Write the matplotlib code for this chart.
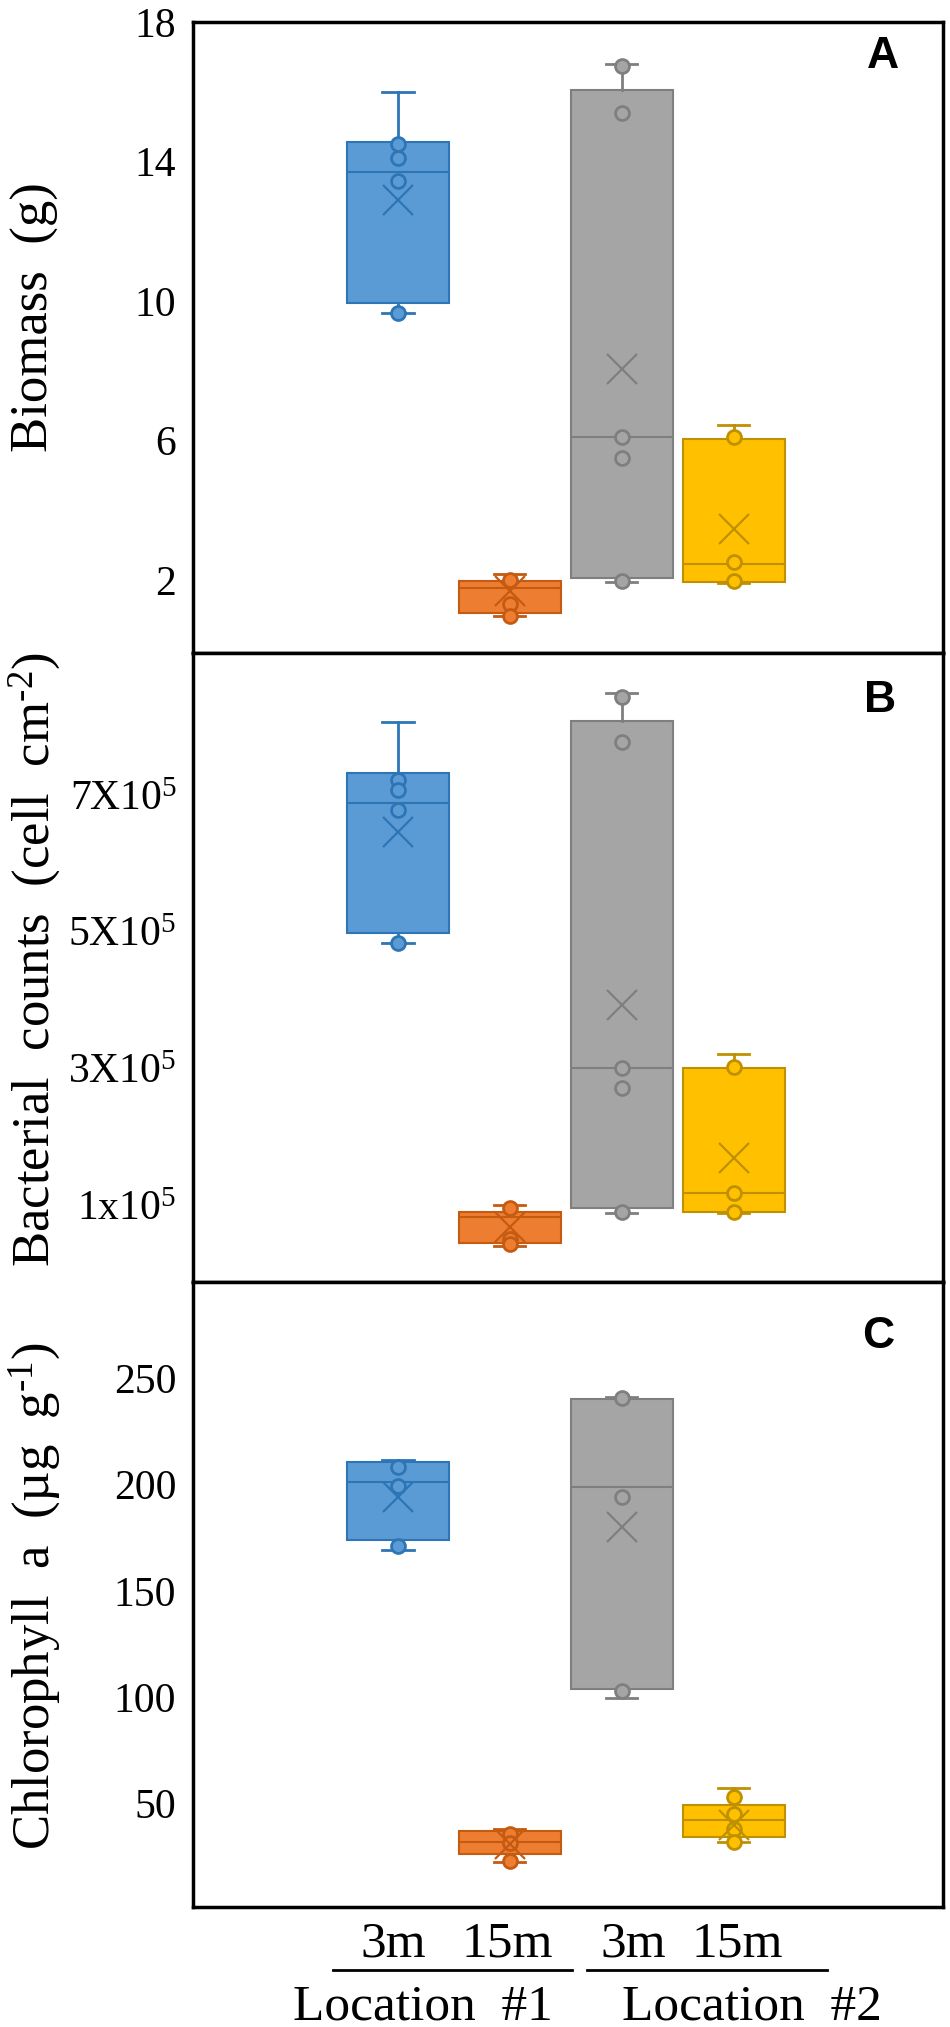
import matplotlib
matplotlib.use("Agg")
import matplotlib.pyplot as plt
from matplotlib.transforms import blended_transform_factory

plt.rcParams['font.family'] = ['Liberation Serif', 'DejaVu Serif']
plt.rcParams['mathtext.fontset'] = 'custom'
plt.rcParams['mathtext.rm'] = 'Liberation Serif'
plt.rcParams['mathtext.it'] = 'Liberation Serif:italic'
plt.rcParams['mathtext.default'] = 'regular'

# groups along x
positions = [1, 2, 3, 4]
depths = ['3m', '15m', '3m', '15m']
locations = ['Location  #1', 'Location  #2']

# colours (Excel palette)
fill_colors = ['#5B9BD5', '#ED7D31', '#A5A5A5', '#FFC000']
edge_colors = ['#2E75B6', '#C55A11', '#7F7F7F', '#BF9000']

# Panel A - biomass (g)
biomass_whislo = [9.65, 0.96, 1.95, 1.90]
biomass_q1 = [9.93, 1.05, 2.05, 1.95]
biomass_med = [13.7, 1.77, 6.1, 2.45]
biomass_q3 = [14.55, 1.97, 16.05, 6.05]
biomass_whishi = [16.0, 2.17, 16.8, 6.45]
biomass_mean = [12.9, 1.68, 8.05, 3.45]
biomass_points = [[14.5, 14.1, 13.45, 9.65], [2.0, 1.3, 0.96],
                  [16.75, 15.4, 6.1, 5.5, 1.97], [6.1, 2.5, 1.97]]
biomass_ticks = [2, 6, 10, 14, 18]
biomass_ticklabels = ['2', '6', '10', '14', '18']

# Panel B - bacterial counts (cell cm-2)
bact_whislo = [4.83e5, 0.40e5, 0.88e5, 0.88e5]
bact_q1 = [4.98e5, 0.44e5, 0.95e5, 0.90e5]
bact_med = [6.88e5, 0.82e5, 3.0e5, 1.17e5]
bact_q3 = [7.32e5, 0.89e5, 8.08e5, 3.0e5]
bact_whishi = [8.07e5, 1.0e5, 8.49e5, 3.21e5]
bact_mean = [6.46e5, 0.67e5, 3.93e5, 1.69e5]
bact_points = [[7.22e5, 7.07e5, 6.78e5, 4.83e5], [0.95e5, 0.5e5, 0.42e5],
               [8.43e5, 7.78e5, 3.0e5, 2.71e5, 0.89e5], [3.02e5, 1.17e5, 0.9e5]]
bact_ticks = [1e5, 3e5, 5e5, 7e5]
bact_ticklabels = ['1x10$^{5}$', '3X10$^{5}$', '5X10$^{5}$', '7X10$^{5}$']

# Panel C - chlorophyll a (ug g-1)
chl_whislo = [169, 22.5, 99.5, 32]
chl_q1 = [174, 26.5, 104, 34.5]
chl_med = [201, 32, 198.5, 42.5]
chl_q3 = [210.5, 37, 240, 49.5]
chl_whishi = [211.5, 38, 241, 57.5]
chl_mean = [194, 31, 180, 40]
chl_points = [[208, 199, 171], [36, 31.5, 23],
              [240.5, 194, 103], [53, 45, 38, 32]]
chl_ticks = [50, 100, 150, 200, 250]
chl_ticklabels = ['50', '100', '150', '200', '250']

fig = plt.figure(figsize=(9.5, 20.27), dpi=100)

ax_left, ax_width = 193 / 950, 750 / 950
ax_a = fig.add_axes([ax_left, 1 - 653 / 2027, ax_width, 631 / 2027])
ax_b = fig.add_axes([ax_left, 1 - 1282 / 2027, ax_width, 629 / 2027])
ax_c = fig.add_axes([ax_left, 1 - 1907 / 2027, ax_width, 625 / 2027])


def draw_panel(ax, whislo, q1, med, q3, whishi, mean, points, ylim,
               ticks, ticklabels, ylabel, label_y, letter, letter_xy):
    stats = []
    for i in range(len(positions)):
        stats.append({'whislo': whislo[i], 'q1': q1[i], 'med': med[i],
                      'q3': q3[i], 'whishi': whishi[i], 'mean': mean[i],
                      'fliers': []})
    bp = ax.bxp(stats, positions=positions, widths=0.91, capwidths=0.28,
                patch_artist=True, showmeans=True, showfliers=False)
    for i, box in enumerate(bp['boxes']):
        box.set_facecolor(fill_colors[i])
        box.set_edgecolor(edge_colors[i])
        box.set_linewidth(1.5)
        bp['medians'][i].set_color(edge_colors[i])
        bp['medians'][i].set_linewidth(1.5)
        for ln in bp['whiskers'][2 * i:2 * i + 2] + bp['caps'][2 * i:2 * i + 2]:
            ln.set_color(edge_colors[i])
            ln.set_linewidth(2)
        m = bp['means'][i]
        m.set_marker('x')
        m.set_markersize(21)
        m.set_markeredgewidth(1.6)
        m.set_markeredgecolor(edge_colors[i])
        m.set_zorder(5)
        ax.plot([positions[i]] * len(points[i]), points[i], 'o', ms=10,
                mfc=fill_colors[i], mec=edge_colors[i], mew=2, zorder=4)

    ax.set_xlim(-0.83, 5.87)
    ax.set_ylim(*ylim)
    ax.set_xticks([])
    ax.set_yticks(ticks)
    ax.set_yticklabels(ticklabels)
    ax.tick_params(axis='y', length=0, pad=12, labelsize=30)
    for sp in ax.spines.values():
        sp.set_linewidth(2.5)
        sp.set_color('black')
    ax.text(-0.211, label_y, ylabel, rotation=90, ha='center', va='center',
            fontsize=38, transform=ax.transAxes)
    ax.text(letter_xy[0], letter_xy[1], letter, ha='center', va='center',
            fontsize=32, fontweight='bold', family='Liberation Sans',
            transform=ax.transAxes)


draw_panel(ax_a, biomass_whislo, biomass_q1, biomass_med, biomass_q3,
           biomass_whishi, biomass_mean, biomass_points, (-0.1, 18),
           biomass_ticks, biomass_ticklabels, 'Biomass  (g)', 0.532,
           'A', (0.92, 0.945))
draw_panel(ax_b, bact_whislo, bact_q1, bact_med, bact_q3, bact_whishi,
           bact_mean, bact_points, (-0.13e5, 9.08e5), bact_ticks,
           bact_ticklabels, 'Bacterial  counts  (cell  cm$^{\u2010 2}$)', 0.512,
           'B', (0.916, 0.925))
draw_panel(ax_c, chl_whislo, chl_q1, chl_med, chl_q3, chl_whishi, chl_mean,
           chl_points, (1.5, 295), chl_ticks, chl_ticklabels,
           'Chlorophyll  a  (\u00b5g  g$^{\u2010 1}$)', 0.498, 'C', (0.913, 0.912))

# grouped x labels under the bottom panel
trans = blended_transform_factory(ax_c.transData, ax_c.transAxes)
depth_x = [0.96, 1.98, 3.1, 4.03]
for x, d in zip(depth_x, depths):
    ax_c.text(x, -0.059, d, ha='center', va='center', fontsize=37,
              transform=trans)
for x0, x1 in [(0.42, 2.56), (2.69, 4.83)]:
    ax_c.plot([x0, x1], [-0.101, -0.101], color='black', lw=2,
              transform=trans, clip_on=False)
for x, loc in zip([1.22, 4.16], locations):
    ax_c.text(x, -0.16, loc, ha='center', va='center', fontsize=37,
              transform=trans)

fig.savefig('out.png', dpi=100)
